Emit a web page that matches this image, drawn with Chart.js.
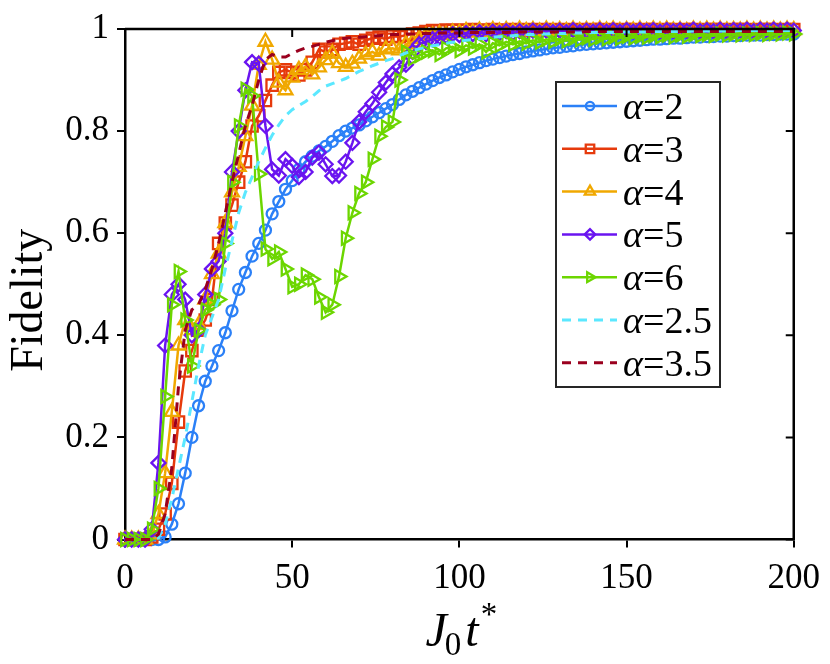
<!DOCTYPE html>
<html>
<head>
<meta charset="utf-8">
<script src="https://cdn.jsdelivr.net/npm/chart.js@4.4.1/dist/chart.umd.min.js"></script>
<style>
html, body { margin: 0; padding: 0; background: #fff; }
#wrap { width: 830px; height: 664px; }
</style>
</head>
<body>
<div id="wrap"><canvas id="fidChart" width="830" height="664"></canvas></div>
<script>
// time grid J0 t*
var tValues = [0,2,4,6,8,10,12,14,16,18,20,22,24,26,28,30,32,34,36,38,40,42,44,46,48,50,
  52,54,56,58,60,62,64,66,68,70,72,74,76,78,80,82,84,86,88,90,92,94,96,98,100,
  102,104,106,108,110,112,114,116,118,120,122,124,126,128,130,132,134,136,138,140,142,144,146,148,150,
  152,154,156,158,160,162,164,166,168,170,172,174,176,178,180,182,184,186,188,190,192,194,196,198,200];

var alphaLabels = ['2', '3', '4', '5', '6', '2.5', '3.5'];

var fidA2 = [0,0,0,0,0,0,
  0.005,0.03,0.07,0.13,0.2,0.262,0.31,0.34,0.37,0.405,
  0.448,0.49,0.523,0.555,0.58,0.606,0.638,0.662,0.686,0.703,
  0.725,0.74,0.751,0.761,0.77,0.78,0.791,0.8,0.806,0.812,
  0.82,0.828,0.836,0.844,0.852,0.862,0.871,0.878,0.885,0.892,
  0.899,0.905,0.91,0.916,0.921,0.926,0.93,0.934,0.938,0.941,
  0.944,0.947,0.95,0.952,0.955,0.957,0.959,0.961,0.963,0.964,
  0.966,0.967,0.969,0.97,0.971,0.972,0.973,0.974,0.975,0.976,
  0.977,0.978,0.979,0.98,0.98,0.981,0.982,0.982,0.983,0.984,
  0.984,0.985,0.985,0.986,0.986,0.987,0.987,0.988,0.988,0.988,
  0.989,0.989,0.99,0.99,0.99];

var fidA3 = [0,0,0,0,0.005,0.02,
  0.05,0.11,0.23,0.33,0.37,0.41,0.43,0.47,0.58,0.62,
  0.655,0.7,0.74,0.81,0.83,0.86,0.89,0.915,0.92,0.915,
  0.91,0.92,0.935,0.96,0.955,0.96,0.97,0.972,0.975,0.97,
  0.978,0.982,0.984,0.98,0.986,0.985,0.988,0.99,0.992,0.995,
  0.997,0.996,0.998,0.997,0.998,0.997,0.999,0.998,0.997,0.999,
  0.998,0.997,0.999,0.998,0.999,0.997,0.999,0.998,0.999,0.998,
  0.999,0.998,0.999,0.998,0.999,0.999,0.998,0.999,0.998,0.999,
  0.999,0.998,0.999,0.999,0.998,0.999,0.999,0.998,0.999,0.999,
  0.998,0.999,0.999,0.999,0.998,0.999,0.999,0.999,0.998,0.999,
  0.999,0.999,0.998,0.999,0.999];

var fidA4 = [0,0,0,0,0.01,0.05,
  0.13,0.25,0.38,0.43,0.41,0.42,0.47,0.52,0.56,0.62,
  0.68,0.73,0.79,0.85,0.93,0.975,0.94,0.895,0.88,0.905,
  0.92,0.926,0.911,0.925,0.939,0.952,0.933,0.926,0.932,0.942,
  0.95,0.955,0.948,0.96,0.962,0.958,0.97,0.974,0.98,0.986,
  0.987,0.99,0.988,0.993,0.992,0.996,0.993,0.997,0.994,0.998,
  0.995,0.998,0.995,0.999,0.996,0.998,0.995,0.999,0.996,0.998,
  0.996,0.999,0.996,0.998,0.996,0.999,0.997,0.999,0.996,0.998,
  0.997,0.999,0.996,0.999,0.997,0.999,0.997,0.998,0.996,0.999,
  0.997,0.999,0.997,0.999,0.997,0.998,0.997,0.999,0.997,0.999,
  0.997,0.999,0.997,0.999,0.998];

var fidA5 = [0,0,0,0,0.02,0.15,
  0.38,0.48,0.5,0.47,0.4,0.41,0.48,0.53,0.545,0.6,
  0.72,0.8,0.88,0.935,0.932,0.81,0.725,0.713,0.745,0.732,
  0.71,0.72,0.748,0.758,0.735,0.712,0.713,0.74,0.777,0.818,
  0.838,0.854,0.876,0.895,0.912,0.925,0.93,0.955,0.97,0.975,
  0.98,0.984,0.986,0.99,0.988,0.992,0.99,0.994,0.99,0.995,
  0.992,0.996,0.992,0.996,0.993,0.997,0.993,0.997,0.994,0.997,
  0.994,0.998,0.994,0.997,0.995,0.998,0.995,0.998,0.995,0.998,
  0.995,0.998,0.996,0.998,0.995,0.998,0.996,0.998,0.996,0.999,
  0.996,0.998,0.996,0.999,0.996,0.998,0.997,0.999,0.996,0.999,
  0.997,0.999,0.997,0.999,0.997];

var fidA6 = [0,0,0,0,0.02,0.1,
  0.28,0.46,0.525,0.43,0.34,0.41,0.45,0.46,0.47,0.58,
  0.7,0.81,0.882,0.869,0.716,0.569,0.55,0.563,0.53,0.495,
  0.5,0.518,0.51,0.475,0.445,0.46,0.515,0.59,0.64,0.678,
  0.7,0.745,0.79,0.808,0.818,0.9,0.955,0.942,0.948,0.955,
  0.958,0.95,0.962,0.965,0.958,0.968,0.963,0.97,0.955,0.972,
  0.968,0.975,0.97,0.976,0.972,0.978,0.974,0.98,0.976,0.981,
  0.977,0.982,0.979,0.983,0.98,0.984,0.981,0.985,0.982,0.986,
  0.983,0.986,0.984,0.987,0.985,0.988,0.985,0.988,0.986,0.989,
  0.987,0.989,0.987,0.99,0.988,0.99,0.988,0.99,0.989,0.991,
  0.989,0.991,0.99,0.992,0.99];

var fidA25 = [0,0,0,0,0,0.003,
  0.03,0.08,0.14,0.2,0.27,0.34,0.4,0.435,0.47,0.53,
  0.585,0.64,0.68,0.71,0.74,0.767,0.792,0.812,0.83,0.842,
  0.85,0.858,0.868,0.879,0.888,0.893,0.898,0.903,0.91,0.917,
  0.922,0.928,0.933,0.938,0.942,0.948,0.953,0.958,0.961,0.964,
  0.967,0.969,0.972,0.974,0.976,0.978,0.979,0.981,0.982,0.984,
  0.985,0.986,0.987,0.988,0.989,0.989,0.99,0.99,0.991,0.991,
  0.991,0.992,0.992,0.992,0.993,0.993,0.993,0.993,0.994,0.994,
  0.994,0.994,0.994,0.995,0.995,0.995,0.995,0.995,0.995,0.996,
  0.996,0.996,0.996,0.996,0.996,0.996,0.997,0.997,0.997,0.997,
  0.997,0.997,0.997,0.997,0.997];

var fidA35 = [0,0,0,0,0,0.01,
  0.05,0.14,0.3,0.41,0.45,0.46,0.49,0.53,0.58,0.64,
  0.7,0.755,0.81,0.85,0.9,0.94,0.95,0.945,0.945,0.952,
  0.958,0.963,0.966,0.97,0.974,0.977,0.98,0.982,0.983,0.984,
  0.985,0.986,0.987,0.988,0.989,0.989,0.99,0.99,0.991,0.991,
  0.991,0.992,0.992,0.992,0.992,0.993,0.993,0.993,0.993,0.993,
  0.993,0.993,0.994,0.994,0.994,0.994,0.994,0.994,0.994,0.994,
  0.994,0.994,0.994,0.995,0.995,0.995,0.995,0.995,0.995,0.995,
  0.995,0.995,0.995,0.995,0.995,0.995,0.995,0.995,0.995,0.995,
  0.995,0.995,0.995,0.995,0.995,0.995,0.995,0.995,0.995,0.995,
  0.995,0.995,0.995,0.995,0.995];

function pts(ys) {
  return ys.map(function (y, i) { return { x: tValues[i], y: y }; });
}

function series(label, ys, color, style, radius, rotation, order) {
  return {
    label: label,
    data: pts(ys),
    borderColor: color,
    borderWidth: 2.5,
    pointStyle: style,
    pointRadius: radius,
    pointRotation: rotation,
    pointBorderWidth: 2.3,
    pointBorderColor: color,
    pointBackgroundColor: 'rgba(0,0,0,0)',
    tension: 0,
    clip: false,
    order: order
  };
}

function dashed(label, ys, color, order) {
  return {
    label: label,
    data: pts(ys),
    borderColor: color,
    borderWidth: 3,
    borderDash: [9, 7],
    pointRadius: 0,
    tension: 0,
    clip: false,
    order: order
  };
}

var SERIF = '"Liberation Serif", "Times New Roman", Times, serif';

// box on top and right with inward ticks
var frameBox = {
  id: 'frameBox',
  afterDatasetsDraw: function (chart) {
    var ctx = chart.ctx, a = chart.chartArea;
    var xs = chart.scales.x, ys = chart.scales.y;
    ctx.save();
    ctx.strokeStyle = '#000';
    ctx.lineWidth = 2.5;
    ctx.beginPath();
    ctx.moveTo(a.left, a.top); ctx.lineTo(a.right, a.top); ctx.lineTo(a.right, a.bottom);
    ctx.stroke();
    ctx.lineWidth = 2;
    ctx.beginPath();
    xs.ticks.forEach(function (t) {
      var px = xs.getPixelForValue(t.value);
      ctx.moveTo(px, a.top); ctx.lineTo(px, a.top + 8);
    });
    ys.ticks.forEach(function (t) {
      var py = ys.getPixelForValue(t.value);
      ctx.moveTo(a.right, py); ctx.lineTo(a.right - 8, py);
    });
    ctx.stroke();
    ctx.restore();
  }
};

// legend inside the axes, upper right
var insetLegend = {
  id: 'insetLegend',
  afterDraw: function (chart) {
    var ctx = chart.ctx;
    var bx = 556, by = 82, bw = 164, bh = 305;
    ctx.save();
    ctx.fillStyle = '#fff';
    ctx.fillRect(bx, by, bw, bh);
    ctx.strokeStyle = '#262626';
    ctx.lineWidth = 2;
    ctx.strokeRect(bx, by, bw, bh);
    chart.data.datasets.forEach(function (ds, i) {
      var cy = by + 24 + i * 42.8;
      ctx.strokeStyle = ds.borderColor;
      ctx.lineWidth = ds.borderWidth;
      ctx.setLineDash(ds.borderDash || []);
      ctx.beginPath();
      ctx.moveTo(bx + 6, cy); ctx.lineTo(bx + 61, cy);
      ctx.stroke();
      ctx.setLineDash([]);
      if (ds.pointRadius > 0) {
        ctx.fillStyle = 'rgba(0,0,0,0)';
        ctx.lineWidth = ds.pointBorderWidth;
        Chart.helpers.drawPoint(ctx, {
          pointStyle: ds.pointStyle,
          radius: ds.pointRadius * 0.75,
          rotation: ds.pointRotation || 0,
          borderWidth: ds.pointBorderWidth
        }, bx + 34, cy);
      }
      ctx.fillStyle = '#000';
      ctx.textBaseline = 'alphabetic';
      ctx.font = 'italic 38px ' + SERIF;
      ctx.fillText('\u03b1', bx + 67, cy + 13);
      var w = ctx.measureText('\u03b1').width;
      ctx.font = '38px ' + SERIF;
      ctx.fillText('=' + alphaLabels[i], bx + 67 + w, cy + 13);
    });
    ctx.restore();
  }
};

// axis labels: J_0 t^* under the x axis, Fidelity rotated on the left
var axisTitles = {
  id: 'axisTitles',
  afterDraw: function (chart) {
    var ctx = chart.ctx, a = chart.chartArea;
    var cx = (a.left + a.right) / 2 + 2;
    var base = 646;
    var big = 'italic 48px ' + SERIF, small = '33px ' + SERIF;
    ctx.save();
    ctx.fillStyle = '#000';
    ctx.textBaseline = 'alphabetic';
    ctx.font = big;
    var wJ = ctx.measureText('J').width, wt = ctx.measureText('t').width;
    ctx.font = small;
    var w0 = ctx.measureText('0').width, ws = ctx.measureText('*').width;
    var x = cx - (wJ + w0 + wt + ws + 4) / 2;
    ctx.font = big; ctx.fillText('J', x, base); x += wJ;
    ctx.font = small; ctx.fillText('0', x - 2, base + 9); x += w0 + 2;
    ctx.font = big; ctx.fillText('t', x, base); x += wt + 2;
    ctx.font = small; ctx.fillText('*', x, base - 21);

    ctx.translate(30, (a.top + a.bottom) / 2 + 16);
    ctx.rotate(-Math.PI / 2);
    ctx.font = '46px ' + SERIF;
    ctx.textAlign = 'center';
    ctx.textBaseline = 'middle';
    ctx.fillText('Fidelity', 0, 0);
    ctx.restore();
  }
};

var chartData = {
  datasets: [
    series('\u03b1=2', fidA2, '#2b80f7', 'circle', 5.5, 0, 7),
    series('\u03b1=3', fidA3, '#e63a0c', 'rect', 8, 0, 6),
    series('\u03b1=4', fidA4, '#f0a800', 'triangle', 8, 0, 5),
    series('\u03b1=5', fidA5, '#6a14f0', 'rectRot', 7, 0, 4),
    series('\u03b1=6', fidA6, '#6cd600', 'triangle', 7.5, 90, 3),
    dashed('\u03b1=2.5', fidA25, '#5be8ff', 2),
    dashed('\u03b1=3.5', fidA35, '#9a001e', 1)
  ]
};

var chartOptions = {
  responsive: false,
  animation: false,
  devicePixelRatio: 1,
  layout: { padding: { left: 0, right: 34, top: 17, bottom: 0 } },
  plugins: { legend: { display: false }, tooltip: { enabled: false } },
  scales: {
    x: {
      type: 'linear',
      min: 0,
      max: 200,
      ticks: { stepSize: 50, color: '#000', padding: 10, font: { family: SERIF, size: 35 }, maxRotation: 0 },
      grid: { drawOnChartArea: false, drawTicks: true, tickLength: 8, color: '#000', lineWidth: 2 },
      border: { color: '#000', width: 2.5 },
      afterFit: function (s) { s.height = 124.5; }
    },
    y: {
      min: 0,
      max: 1,
      ticks: {
        stepSize: 0.2, color: '#000', padding: 8, font: { family: SERIF, size: 35 },
        callback: function (v) { return String(Number(v.toFixed(1))); }
      },
      grid: { drawOnChartArea: false, drawTicks: true, tickLength: 8, color: '#000', lineWidth: 2 },
      border: { color: '#000', width: 2.5 },
      afterFit: function (s) { s.width = 125; }
    }
  }
};

function drawChart() {
  var ctx = document.getElementById('fidChart').getContext('2d');
  new Chart(ctx, {
    type: 'line',
    data: chartData,
    options: chartOptions,
    plugins: [frameBox, insetLegend, axisTitles]
  });
}

// make sure the serif face is ready before the canvas text is drawn
if (document.fonts && document.fonts.load) {
  Promise.all([
    document.fonts.load('35px "Liberation Serif"'),
    document.fonts.load('italic 35px "Liberation Serif"')
  ]).then(drawChart, drawChart);
} else {
  drawChart();
}
</script>
</body>
</html>
